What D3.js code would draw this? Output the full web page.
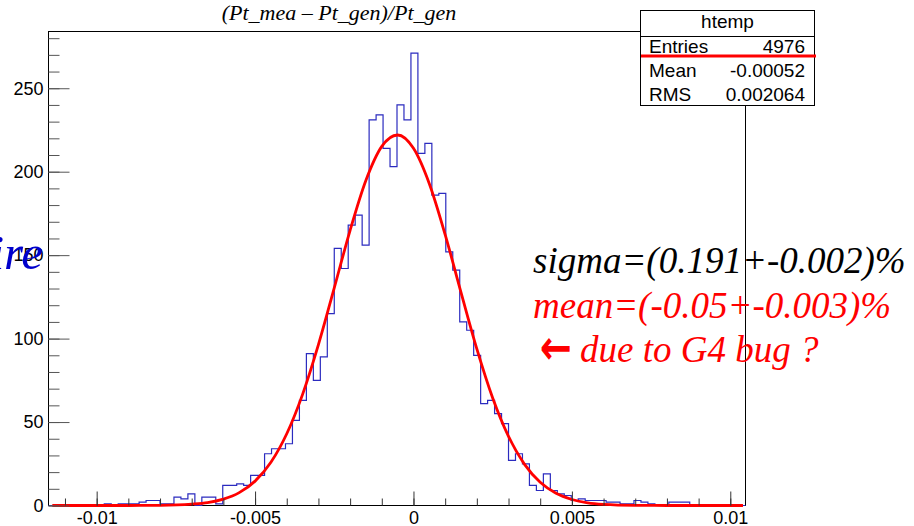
<!DOCTYPE html>
<html>
<head>
<meta charset="utf-8">
<script src="https://cdn.jsdelivr.net/npm/d3@7"></script>
<style>
    body { margin: 0; background: #fff; }
    svg { display: block; }
</style>
</head>
<body>
<div id="chart"></div>
<script>
/* histogram: 100 bins */
const binLow = -0.01152;
const binWidth = 0.00022;
const binCounts = [
    0, 0, 0, 0, 0, 0, 0, 0, 1, 0,
    1, 1, 1, 2, 3, 3, 1, 1, 5, 4,
    7, 0, 5, 5, 1, 12, 12, 13, 12, 18,
    18, 31, 34, 34, 37, 51, 63, 91, 75, 89,
    115, 154, 142, 168, 174, 156, 231, 234, 214, 203,
    240, 231, 271, 211, 217, 186, 187, 152, 141, 110,
    105, 90, 61, 63, 55, 49, 27, 31, 25, 12,
    9, 19, 9, 7, 6, 3, 4, 3, 3, 3,
    2, 2, 1, 1, 3, 2, 1, 0, 0, 2,
    2, 2, 0, 0, 0, 0, 0, 0, 0, 0
];

/* gaussian fit curve */
const fitX = [-0.0114, -0.0100, -0.0090, -0.0080, -0.0070, -0.0065, -0.0060, -0.0055, -0.0050, -0.0045,
    -0.0040, -0.0035, -0.0030, -0.0025, -0.0020, -0.0015, -0.0010, -0.0005, 0.0000, 0.0005,
    0.0010, 0.0015, 0.0020, 0.0025, 0.0030, 0.0035, 0.0040, 0.0045, 0.0050, 0.0055,
    0.0060, 0.0070, 0.0080, 0.0104];
const fitY = [0, 0, 0, 0.1, 0.8, 1.7, 3.8, 7.7, 14.6, 25.9,
    43, 66.6, 96.4, 130.4, 164.9, 194.9, 215.2, 222, 214, 192.8,
    162.3, 127.7, 93.8, 64.4, 41.4, 24.8, 13.9, 7.3, 3.6, 1.6,
    0.7, 0.1, 0, 0];

const xTicks = [-0.01, -0.005, 0, 0.005, 0.01];
const xTickLabels = ["-0.01", "-0.005", "0", "0.005", "0.01"];
const yTicks = [0, 50, 100, 150, 200, 250];
const yTickLabels = ["0", "50", "100", "150", "200", "250"];

const statsTitle = "htemp";
const statsNames = ["Entries", "Mean", "RMS"];
const statsValues = ["4976", "-0.00052", "0.002064"];

const titleText = "(Pt_mea \u2013 Pt_gen)/Pt_gen";
const sigmaText = "sigma=(0.191+-0.002)%";
const meanText = "mean=(-0.05+-0.003)%";
const bugText = "due to G4 bug ?";
const sideText = "ire";

let width = 914;
let height = 526;
let frameLeft = 48.5, frameRight = 745.5, frameTop = 31.5, frameBottom = 505.5;

let svg = d3.select("#chart").append("svg")
    .attr("width", width)
    .attr("height", height)
    .style("font-family", "'Liberation Sans', Arial, sans-serif");

svg.append("rect")
    .attr("width", width)
    .attr("height", height)
    .attr("fill", "#fff");

let x = d3.scaleLinear()
    .domain([binLow, binLow + binWidth * binCounts.length])
    .range([frameLeft, frameRight]);

let y = d3.scaleLinear()
    .domain([0, 284])
    .range([frameBottom, frameTop]);

/* frame */
svg.append("rect")
    .attr("x", frameLeft)
    .attr("y", frameTop)
    .attr("width", frameRight - frameLeft)
    .attr("height", frameBottom - frameTop)
    .attr("fill", "none")
    .attr("stroke", "#000")
    .attr("stroke-width", 1);

/* histogram outline */
let steps = [[binLow, 0]];
binCounts.forEach((c, i) => {
    steps.push([binLow + i * binWidth, c]);
    steps.push([binLow + (i + 1) * binWidth, c]);
});
steps.push([binLow + binCounts.length * binWidth, 0]);

let histLine = d3.line()
    .x(d => x(d[0]))
    .y(d => y(d[1]));

svg.append("path")
    .attr("d", histLine(steps))
    .attr("fill", "none")
    .attr("stroke", "#2b2bbf")
    .attr("stroke-width", 1.2);

/* fit */
let fitLine = d3.line()
    .x(d => x(d[0]))
    .y(d => y(d[1]))
    .curve(d3.curveMonotoneX);

svg.append("path")
    .attr("d", fitLine(fitX.map((v, i) => [v, fitY[i]])))
    .attr("fill", "none")
    .attr("stroke", "#ff0000")
    .attr("stroke-width", 2.8);

/* y axis, minor then major ticks */
svg.append("g")
    .attr("transform", `translate(${frameLeft},0)`)
    .call(d3.axisLeft(y).tickValues(d3.range(0, 290, 10)).tickSize(-11).tickFormat(""))
    .call(g => g.select(".domain").remove())
    .call(g => g.selectAll("line").attr("stroke", "#555"));

svg.append("g")
    .attr("transform", `translate(${frameLeft},0)`)
    .call(d3.axisLeft(y).tickValues(yTicks).tickSize(-21).tickPadding(5)
        .tickFormat((d, i) => yTickLabels[i]))
    .call(g => g.select(".domain").remove())
    .call(g => g.selectAll("line").attr("stroke", "#555"))
    .call(g => g.selectAll("text")
        .attr("fill", "#000")
        .style("font-size", "18px")
        .style("font-family", "'Liberation Sans', Arial, sans-serif"));

/* x axis */
svg.append("g")
    .attr("transform", `translate(0,${frameBottom})`)
    .call(d3.axisBottom(x).tickValues(d3.range(-11, 11).map(d => d / 1000)).tickSize(-7).tickFormat(""))
    .call(g => g.select(".domain").remove())
    .call(g => g.selectAll("line").attr("stroke", "#333"));

svg.append("g")
    .attr("transform", `translate(0,${frameBottom})`)
    .call(d3.axisBottom(x).tickValues(xTicks).tickSize(-14).tickPadding(6)
        .tickFormat((d, i) => xTickLabels[i]))
    .call(g => g.select(".domain").remove())
    .call(g => g.selectAll("line").attr("stroke", "#333"))
    .call(g => g.selectAll("text")
        .attr("fill", "#000")
        .style("font-size", "18px")
        .style("font-family", "'Liberation Sans', Arial, sans-serif"));

/* title */
svg.append("text")
    .attr("x", 339)
    .attr("y", 20)
    .attr("text-anchor", "middle")
    .style("font-family", "'Liberation Serif', 'Times New Roman', serif")
    .style("font-style", "italic")
    .style("font-size", "22px")
    .text(titleText);

/* stats box */
let stats = svg.append("g");

stats.append("rect")
    .attr("x", 640.5)
    .attr("y", 10.5)
    .attr("width", 174)
    .attr("height", 95)
    .attr("fill", "#fff")
    .attr("stroke", "#000");

stats.append("line")
    .attr("x1", 640.5).attr("x2", 814.5)
    .attr("y1", 36.5).attr("y2", 36.5)
    .attr("stroke", "#000");

stats.append("text")
    .attr("x", 727.5)
    .attr("y", 28)
    .attr("text-anchor", "middle")
    .style("font-size", "19px")
    .text(statsTitle);

stats.selectAll(".stat-name")
    .data(statsNames).enter()
    .append("text")
    .attr("class", "stat-name")
    .attr("x", 649)
    .attr("y", (d, i) => 53 + i * 24)
    .style("font-size", "19px")
    .text(d => d);

stats.selectAll(".stat-value")
    .data(statsValues).enter()
    .append("text")
    .attr("class", "stat-value")
    .attr("x", 805)
    .attr("y", (d, i) => 53 + i * 24)
    .attr("text-anchor", "end")
    .style("font-size", "19px")
    .text(d => d);

stats.append("line")
    .attr("x1", 641).attr("x2", 816)
    .attr("y1", 56).attr("y2", 56)
    .attr("stroke", "#ff0000")
    .attr("stroke-width", 3);

/* annotations */
let notes = svg.append("g")
    .style("font-family", "'Liberation Serif', 'Times New Roman', serif")
    .style("font-style", "italic")
    .style("font-size", "37px");

notes.append("text")
    .attr("x", 533)
    .attr("y", 273)
    .attr("fill", "#000")
    .text(sigmaText);

notes.append("text")
    .attr("x", 533)
    .attr("y", 318)
    .attr("fill", "#ff0000")
    .text(meanText);

notes.append("text")
    .attr("x", 540)
    .attr("y", 364)
    .attr("fill", "#ff0000")
    .attr("textLength", 32)
    .attr("lengthAdjust", "spacingAndGlyphs")
    .style("font-family", "'DejaVu Sans', sans-serif")
    .style("font-style", "normal")
    .style("font-weight", "bold")
    .style("font-size", "48px")
    .text("\u2190");

notes.append("text")
    .attr("x", 580)
    .attr("y", 362)
    .attr("fill", "#ff0000")
    .text(bugText);

svg.append("text")
    .attr("x", 43)
    .attr("y", 269)
    .attr("text-anchor", "end")
    .attr("fill", "#0000cc")
    .style("font-family", "'Liberation Serif', 'Times New Roman', serif")
    .style("font-style", "italic")
    .style("font-size", "49px")
    .text(sideText);
</script>
</body>
</html>
